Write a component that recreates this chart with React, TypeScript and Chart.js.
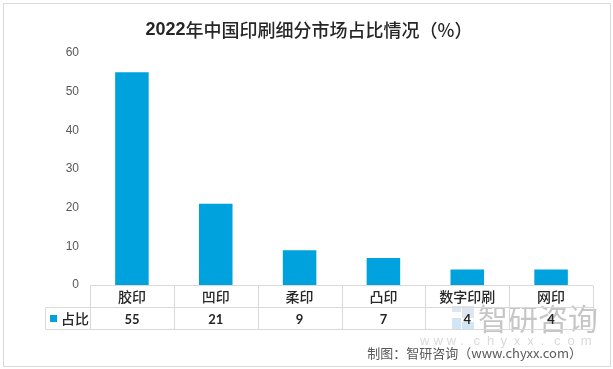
import React, { useEffect, useRef } from "react";
import { Chart, registerables } from "chart.js";
Chart.register(...registerables);

const categories = ["胶印", "凹印", "柔印", "凸印", "数字印刷", "网印"];
const values = [55, 21, 9, 7, 4, 4];
const seriesName = "占比";
const yMin = 0;
const yMax = 60;
const yStep = 10;
const titleYear = "2022";
const titleRest = "年中国印刷细分市场占比情况（%）";
const sourceText = "制图：智研咨询（www.chyxx.com）";
const watermarkText = "智研咨询";
const watermarkUrl = "www.chyxx.com";

const BAR = "#00A2DE";
const GRID = "#D9D9D9";
const W = 613;
const H = 369;

const decor = {
  id: "decor",
  beforeDraw(chart: any) {
    const ctx = chart.ctx;
    ctx.save();
    ctx.fillStyle = "#fff";
    ctx.fillRect(0, 0, W, H);
    ctx.strokeStyle = "#D9D9D9";
    ctx.lineWidth = 1;
    ctx.strokeRect(3.5, 3.5, W - 6, H - 6);
    // title
    ctx.fillStyle = "#262626";
    ctx.textBaseline = "middle";
    ctx.textAlign = "left";
    const f1 = 'bold 18px "Liberation Sans", "Noto Sans CJK SC"';
    const f2 = '500 18px "Noto Sans CJK SC"';
    ctx.font = f1;
    const w1 = ctx.measureText(titleYear).width;
    ctx.font = f2;
    const w2 = ctx.measureText(titleRest).width;
    const start = 309 - (w1 + w2) / 2;
    ctx.font = f1;
    ctx.fillText(titleYear, start, 30);
    ctx.font = f2;
    ctx.fillText(titleRest, start + w1, 30);
    ctx.restore();
  },
  afterDraw(chart: any) {
    const ctx = chart.ctx;
    const x = chart.scales.x;
    const area = chart.chartArea;
    const n = categories.length;
    const step = (area.right - area.left) / n;
    const top = Math.round(area.bottom) + 0.5;
    const rowH = 22;
    const legendLeft = 45.5;
    ctx.save();
    // watermark
    ctx.globalAlpha = 0.6;
    ctx.fillStyle = "#C9D6E6";
    ctx.fillRect(452, 306, 9, 6);
    ctx.fillRect(462, 306, 12, 12);
    ctx.fillStyle = "#B3D4EE";
    ctx.fillRect(452, 318, 9, 12);
    ctx.fillRect(462, 322, 12, 8);
    ctx.fillStyle = "#A0A0A0";
    ctx.font = '30px "Noto Sans CJK SC"';
    ctx.textAlign = "left";
    ctx.textBaseline = "middle";
    ctx.fillText(watermarkText, 478, 319);
    ctx.font = '13px "Liberation Sans"';
    ctx.fillStyle = "#BFBFBF";
    let cx = 420;
    for (const ch of watermarkUrl) {
      ctx.fillText(ch, cx, 341);
      cx += 13.4;
    }
    ctx.globalAlpha = 1;
    // table lines
    ctx.strokeStyle = GRID;
    ctx.lineWidth = 1;
    ctx.beginPath();
    ctx.moveTo(area.left, top);
    ctx.lineTo(area.right, top);
    ctx.moveTo(legendLeft, top + rowH);
    ctx.lineTo(area.right, top + rowH);
    ctx.moveTo(legendLeft, top + 2 * rowH);
    ctx.lineTo(area.right, top + 2 * rowH);
    ctx.moveTo(legendLeft, top + rowH);
    ctx.lineTo(legendLeft, top + 2 * rowH);
    for (let i = 0; i <= n; i++) {
      const px = Math.round(area.left + i * step) + 0.5;
      ctx.moveTo(px, top);
      ctx.lineTo(px, top + 2 * rowH);
    }
    ctx.stroke();
    // category labels
    ctx.textAlign = "center";
    ctx.textBaseline = "middle";
    ctx.fillStyle = "#262626";
    ctx.font = '500 14px "Noto Sans CJK SC"';
    categories.forEach((c, i) => {
      ctx.fillText(c, x.getPixelForValue(i), top + rowH / 2);
    });
    // values
    ctx.font = 'bold 13px "Lato", "Liberation Sans"';
    values.forEach((v, i) => {
      ctx.fillText(String(v), x.getPixelForValue(i), top + rowH * 1.5 + 1);
    });
    // legend
    ctx.fillStyle = BAR;
    ctx.fillRect(50, top + rowH * 1.5 - 3.5, 7, 7);
    ctx.fillStyle = "#262626";
    ctx.textAlign = "left";
    ctx.font = '500 14px "Noto Sans CJK SC"';
    ctx.fillText(seriesName, 61, top + rowH * 1.5);
    // source
    ctx.fillStyle = "#595959";
    ctx.font = '13px "Noto Sans CJK SC"';
    ctx.textAlign = "right";
    ctx.fillText(sourceText, 582, 353);
    ctx.restore();
  },
};

export default function App() {
  const ref = useRef<HTMLCanvasElement>(null);
  useEffect(() => {
    document.body.style.margin = "0";
    const chart = new Chart(ref.current!, {
      type: "bar",
      data: {
        labels: categories,
        datasets: [
          {
            label: seriesName,
            data: values,
            backgroundColor: BAR,
            categoryPercentage: 1,
            barPercentage: 0.4,
          },
        ],
      },
      options: {
        animation: false,
        responsive: false,
        devicePixelRatio: 1,
        layout: { padding: { top: 53, left: 0, right: 20, bottom: 84 } },
        plugins: { legend: { display: false }, tooltip: { enabled: false }, title: { display: false } },
        scales: {
          x: { display: false },
          y: {
            min: yMin,
            max: yMax,
            ticks: {
              stepSize: yStep,
              color: "#595959",
              font: { family: '"Liberation Sans"', size: 12 },
              padding: 11,
            },
            grid: { display: false, drawTicks: false },
            border: { display: false },
            afterFit(scale: any) {
              scale.width = 90;
            },
          },
        },
      },
      plugins: [decor],
    });
    return () => chart.destroy();
  }, []);
  return <canvas ref={ref} width={W} height={H} style={{ display: "block" }} />;
}
